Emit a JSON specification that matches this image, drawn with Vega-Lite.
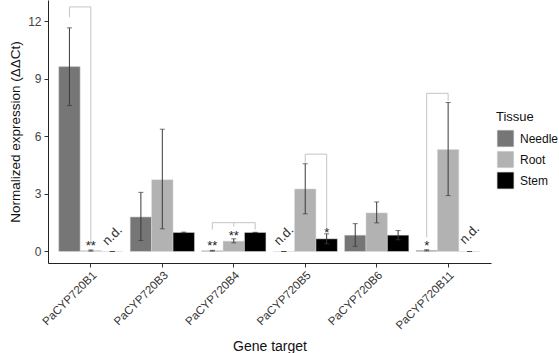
{
  "$schema": "https://vega.github.io/schema/vega-lite/v6.json",
  "width": 443,
  "height": 263,
  "autosize": {"type": "none"},
  "padding": {"left": 48, "top": 0, "right": 68, "bottom": 90},
  "background": "white",
  "config": {
    "view": {"stroke": null},
    "font": "Liberation Sans",
    "axis": {"grid": false, "domainColor": "#222222", "domainWidth": 1, "tickColor": "#333333", "tickSize": 4, "labelColor": "#444444", "labelFont": "Liberation Sans", "titleFont": "Liberation Sans", "titleFontWeight": "normal", "titleColor": "#111111"}
  },
  "datasets": {
    "bars": [
      {"gene": "PaCYP720B1", "tissue": "Needle", "value": 9.63, "lo": 7.6, "hi": 11.65},
      {"gene": "PaCYP720B1", "tissue": "Root", "value": 0.05, "lo": 0.02, "hi": 0.08},
      {"gene": "PaCYP720B1", "tissue": "Stem", "value": 0, "lo": 0, "hi": 0},
      {"gene": "PaCYP720B3", "tissue": "Needle", "value": 1.8, "lo": 0.57, "hi": 3.08},
      {"gene": "PaCYP720B3", "tissue": "Root", "value": 3.74, "lo": 1.18, "hi": 6.37},
      {"gene": "PaCYP720B3", "tissue": "Stem", "value": 0.99, "lo": 0.97, "hi": 1.01},
      {"gene": "PaCYP720B4", "tissue": "Needle", "value": 0.04, "lo": 0.02, "hi": 0.06},
      {"gene": "PaCYP720B4", "tissue": "Root", "value": 0.54, "lo": 0.45, "hi": 0.66},
      {"gene": "PaCYP720B4", "tissue": "Stem", "value": 0.99, "lo": 0.98, "hi": 1.0},
      {"gene": "PaCYP720B5", "tissue": "Needle", "value": 0, "lo": 0, "hi": 0},
      {"gene": "PaCYP720B5", "tissue": "Root", "value": 3.26, "lo": 1.96, "hi": 4.57},
      {"gene": "PaCYP720B5", "tissue": "Stem", "value": 0.66, "lo": 0.4, "hi": 0.92},
      {"gene": "PaCYP720B6", "tissue": "Needle", "value": 0.85, "lo": 0.27, "hi": 1.45},
      {"gene": "PaCYP720B6", "tissue": "Root", "value": 2.01, "lo": 1.49, "hi": 2.58},
      {"gene": "PaCYP720B6", "tissue": "Stem", "value": 0.85, "lo": 0.61, "hi": 1.09},
      {"gene": "PaCYP720B11", "tissue": "Needle", "value": 0.06, "lo": 0.03, "hi": 0.09},
      {"gene": "PaCYP720B11", "tissue": "Root", "value": 5.31, "lo": 2.91, "hi": 7.76},
      {"gene": "PaCYP720B11", "tissue": "Stem", "value": 0, "lo": 0, "hi": 0}
    ],
    "brackets": [
      {"id": "b1", "ord": 1, "gene": "PaCYP720B1", "tissue": "Needle", "y": 12.2},
      {"id": "b1", "ord": 2, "gene": "PaCYP720B1", "tissue": "Needle", "y": 12.74},
      {"id": "b1", "ord": 3, "gene": "PaCYP720B1", "tissue": "Root", "y": 12.74},
      {"id": "b1", "ord": 4, "gene": "PaCYP720B1", "tissue": "Root", "y": 0.36},
      {"id": "b4", "ord": 1, "gene": "PaCYP720B4", "tissue": "Needle", "y": 1.14},
      {"id": "b4", "ord": 2, "gene": "PaCYP720B4", "tissue": "Needle", "y": 1.5},
      {"id": "b4", "ord": 3, "gene": "PaCYP720B4", "tissue": "Stem", "y": 1.5},
      {"id": "b4", "ord": 4, "gene": "PaCYP720B4", "tissue": "Stem", "y": 1.14},
      {"id": "b4m", "ord": 1, "gene": "PaCYP720B4", "tissue": "Root", "y": 1.5},
      {"id": "b4m", "ord": 2, "gene": "PaCYP720B4", "tissue": "Root", "y": 1.3},
      {"id": "b5", "ord": 1, "gene": "PaCYP720B5", "tissue": "Root", "y": 4.62},
      {"id": "b5", "ord": 2, "gene": "PaCYP720B5", "tissue": "Root", "y": 5.07},
      {"id": "b5", "ord": 3, "gene": "PaCYP720B5", "tissue": "Stem", "y": 5.07},
      {"id": "b5", "ord": 4, "gene": "PaCYP720B5", "tissue": "Stem", "y": 1.2},
      {"id": "b11", "ord": 1, "gene": "PaCYP720B11", "tissue": "Needle", "y": 0.73},
      {"id": "b11", "ord": 2, "gene": "PaCYP720B11", "tissue": "Needle", "y": 8.24},
      {"id": "b11", "ord": 3, "gene": "PaCYP720B11", "tissue": "Root", "y": 8.24},
      {"id": "b11", "ord": 4, "gene": "PaCYP720B11", "tissue": "Root", "y": 7.85}
    ],
    "stars": [
      {"gene": "PaCYP720B1", "tissue": "Root", "y": 0.07, "label": "**"},
      {"gene": "PaCYP720B4", "tissue": "Needle", "y": 0.07, "label": "**"},
      {"gene": "PaCYP720B4", "tissue": "Root", "y": 0.59, "label": "**"},
      {"gene": "PaCYP720B5", "tissue": "Stem", "y": 0.76, "label": "*"},
      {"gene": "PaCYP720B11", "tissue": "Needle", "y": 0.1, "label": "*"}
    ],
    "nd": [
      {"gene": "PaCYP720B1", "tissue": "Stem", "y": 0.83, "label": "n.d."},
      {"gene": "PaCYP720B5", "tissue": "Needle", "y": 0.83, "label": "n.d."},
      {"gene": "PaCYP720B11", "tissue": "Stem", "y": 0.9, "label": "n.d."}
    ]
  },
  "encoding": {
    "x": {
      "field": "gene", "type": "nominal",
      "scale": {"domain": ["PaCYP720B1", "PaCYP720B3", "PaCYP720B4", "PaCYP720B5", "PaCYP720B6", "PaCYP720B11"], "paddingInner": 0.1, "paddingOuter": 0.15},
      "axis": {"title": "Gene target", "labelAngle": -45, "labelAlign": "right", "labelBaseline": "top", "labelFontSize": 11.5, "labelPadding": 2, "labelColor": "#333333", "titleFontSize": 14, "titlePadding": 8}
    },
    "xOffset": {"field": "tissue", "type": "nominal", "scale": {"domain": ["Needle", "Root", "Stem"], "paddingInner": 0, "paddingOuter": 0}}
  },
  "layer": [
    {
      "data": {"name": "bars"},
      "mark": {"type": "bar", "stroke": "#dddddd", "strokeWidth": 0.5},
      "encoding": {
        "y": {
          "field": "value", "type": "quantitative",
          "scale": {"domain": [-0.6, 13.1], "nice": false, "zero": false},
          "axis": {"title": "Normalized expression (ΔΔCt)", "values": [0, 3, 6, 9, 12], "labelFontSize": 12, "labelPadding": 3, "titleFontSize": 13.5, "titlePadding": 5}
        },
        "y2": {"datum": 0},
        "color": {
          "field": "tissue", "type": "nominal",
          "scale": {"domain": ["Needle", "Root", "Stem"], "range": ["#767676", "#b2b2b2", "#000000"]},
          "legend": {"title": "Tissue", "orient": "none", "legendX": 448, "legendY": 111, "symbolType": "square", "symbolSize": 300, "symbolStrokeColor": "white", "symbolStrokeWidth": 1, "symbolOpacity": 1, "titleFontSize": 13, "titleFontWeight": "normal", "titleColor": "#111111", "labelFontSize": 12, "labelColor": "#111111", "labelOffset": 5, "rowPadding": -5, "titlePadding": 5}
        }
      }
    },
    {
      "data": {"name": "bars"},
      "mark": {"type": "rule", "color": "#3a3a3a", "strokeWidth": 1},
      "encoding": {
        "y": {"field": "lo", "type": "quantitative"},
        "y2": {"field": "hi"}
      }
    },
    {
      "data": {"name": "bars"},
      "mark": {"type": "tick", "color": "#3a3a3a", "size": 5, "thickness": 1, "orient": "horizontal"},
      "encoding": {"y": {"field": "lo", "type": "quantitative"}}
    },
    {
      "data": {"name": "bars"},
      "mark": {"type": "tick", "color": "#3a3a3a", "size": 5, "thickness": 1, "orient": "horizontal"},
      "encoding": {"y": {"field": "hi", "type": "quantitative"}}
    },
    {
      "data": {"name": "brackets"},
      "mark": {"type": "line", "color": "#c4c4c4", "strokeWidth": 1},
      "encoding": {
        "y": {"field": "y", "type": "quantitative"},
        "detail": {"field": "id"},
        "order": {"field": "ord", "type": "quantitative"}
      }
    },
    {
      "data": {"name": "stars"},
      "mark": {"type": "text", "fontSize": 13, "color": "#222222", "baseline": "alphabetic", "align": "center"},
      "encoding": {
        "y": {"field": "y", "type": "quantitative"},
        "text": {"field": "label"}
      }
    },
    {
      "data": {"name": "nd"},
      "mark": {"type": "text", "fontSize": 13, "color": "#333333", "baseline": "middle", "align": "center", "angle": -45},
      "encoding": {
        "y": {"field": "y", "type": "quantitative"},
        "text": {"field": "label"}
      }
    }
  ]
}
